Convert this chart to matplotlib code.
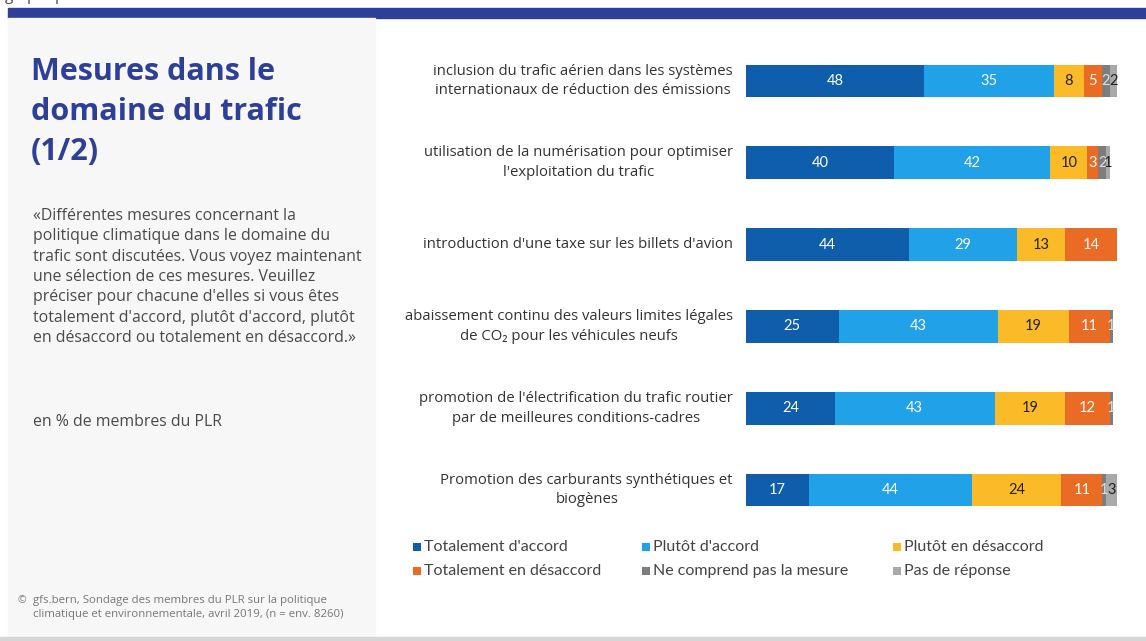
import numpy as np
import matplotlib.pyplot as plt
from matplotlib.patches import Rectangle
from matplotlib.lines import Line2D

# survey answers per measure, in %
categories = [
    "inclusion du trafic aérien dans les systèmes\ninternationaux de réduction des émissions",
    "utilisation de la numérisation pour optimiser\nl'exploitation du trafic",
    "introduction d'une taxe sur les billets d'avion",
    "abaissement continu des valeurs limites légales\nde CO₂ pour les véhicules neufs",
    "promotion de l'électrification du trafic routier\npar de meilleures conditions-cadres",
    "Promotion des carburants synthétiques et\nbiogènes",
]
tot_accord = [48, 40, 44, 25, 24, 17]
plutot_accord = [35, 42, 29, 43, 43, 44]
plutot_desaccord = [8, 10, 13, 19, 19, 24]
tot_desaccord = [5, 3, 14, 11, 12, 11]
ne_comprend = [2, 2, 0, 1, 1, 1]
pas_reponse = [2, 1, 0, 0, 0, 3]

series_names = ["Totalement d'accord", "Plutôt d'accord", "Plutôt en désaccord",
                "Totalement en désaccord", "Ne comprend pas la mesure", "Pas de réponse"]
series = [tot_accord, plutot_accord, plutot_desaccord, tot_desaccord, ne_comprend, pas_reponse]
colors = ["#0f5eac", "#20a1e8", "#fbbb29", "#ea6b24", "#7d7d7d", "#a9a9a9"]
label_colors = ["white", "white", "#222222", "white", "#e0e0e0", "#222222"]

W, H = 1146, 641
fig = plt.figure(figsize=(W / 100, H / 100), dpi=100)
fig.patch.set_facecolor("white")

def px(x, y):
    return x / W, 1 - y / H

main = ["Open Sans", "DejaVu Sans"]
narrow = ["Lato", "DejaVu Sans"]

# page frame: blue band, grey side panel, bottom rule
fig.patches.append(Rectangle(px(8, 18), (W - 8) / W, 10 / H, transform=fig.transFigure,
                             color="#2e3f98", zorder=0))
fig.patches.append(Rectangle(px(8, 637), 367 / W, 619 / H, transform=fig.transFigure,
                             color="#f7f7f7", zorder=0))
fig.patches.append(Rectangle(px(0, 641), 1, 4 / H, transform=fig.transFigure,
                             color="#d6d6d6", zorder=0))
fig.text(*px(5, 0.5), "graphique", fontsize=11, color="#444444", family=main,
         va="baseline", ha="left")

for i, line in enumerate(["Mesures dans le", "domaine du trafic", "(1/2)"]):
    fig.text(*px(31, 80 + 40 * i), line, fontsize=22, fontweight="bold",
             color="#2e3f98", family=main, va="baseline")

body = ["«Différentes mesures concernant la",
        "politique climatique dans le domaine du",
        "trafic sont discutées. Vous voyez maintenant",
        "une sélection de ces mesures. Veuillez",
        "préciser pour chacune d'elles si vous êtes",
        "totalement d'accord, plutôt d'accord, plutôt",
        "en désaccord ou totalement en désaccord.»"]
for i, line in enumerate(body):
    fig.text(*px(33, 216 + 20.3 * i), line, fontsize=11.4, color="#4a4a4a",
             family=main, va="center")

fig.text(*px(33, 422), "en % de membres du PLR", fontsize=11.4, color="#4a4a4a",
         family=main, va="center")

fig.text(*px(17, 601), "©", fontsize=7.5, color="#777777", family=main, va="center")
fig.text(*px(33, 601), "gfs.bern, Sondage des membres du PLR sur la politique",
         fontsize=8.2, color="#777777", family=main, va="center")
fig.text(*px(33, 615), "climatique et environnementale, avril 2019, (n = env. 8260)",
         fontsize=8.2, color="#777777", family=main, va="center")

# stacked bars
row_top, row_bot = 81, 490
unit = (row_bot - row_top) / (len(categories) - 1)
ax_top = row_top - unit / 2
ax_bot = row_bot + unit / 2
ax = fig.add_axes([746 / W, 1 - ax_bot / H, 371 / W, (ax_bot - ax_top) / H])
ax.set_xlim(0, 100)
ax.set_ylim(len(categories) - 0.5, -0.5)
ax.axis("off")

y = np.arange(len(categories))
left = np.zeros(len(categories))
for vals, col, lc in zip(series, colors, label_colors):
    vals = np.array(vals, dtype=float)
    ax.barh(y, vals, left=left, height=0.4, color=col, linewidth=0)
    for yi, (v, l) in enumerate(zip(vals, left)):
        if v > 0:
            ax.text(l + v / 2, yi, f"{int(v)}", ha="center", va="center",
                    fontsize=10.5, color=lc, family=narrow)
    left += vals

for yi, cat in enumerate(categories):
    ax.annotate(cat, xy=(0, yi), xycoords=("axes fraction", "data"),
                xytext=(-13, 0), textcoords="offset pixels", ha="right", va="center",
                multialignment="center", fontsize=10.7, color="#333333",
                family=main, linespacing=1.45)

# legend laid out in three fixed columns, two rows
col_x = [417, 646, 897]
row_y = [547, 571]
for k, (name, col) in enumerate(zip(series_names, colors)):
    cx, cy = col_x[k % 3], row_y[k // 3]
    fig.add_artist(Line2D([cx / W], [1 - cy / H], marker="s", markersize=6,
                          markerfacecolor=col, markeredgewidth=0, linestyle="none",
                          transform=fig.transFigure))
    fig.text(*px(cx + 7, cy), name, fontsize=11.5, color="#444444", family=narrow,
             va="center", ha="left")

fig.savefig("out.png", dpi=100)
